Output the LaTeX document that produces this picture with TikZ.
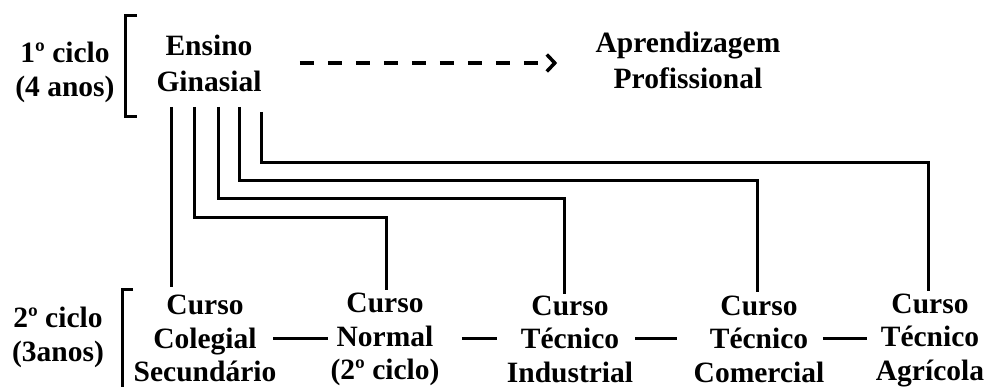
\documentclass[tikz,border=0pt]{standalone}
\usepackage{fontspec}
\setmainfont{Liberation Serif}
\usetikzlibrary{arrows.meta,calc}
\begin{document}
\begin{tikzpicture}[x=1pt,y=-1pt,
  txt/.style={align=center, inner sep=0pt, outer sep=0pt},
  toptxt/.style={txt, font=\bfseries\fontsize{29.5}{36}\selectfont},
  bottxt/.style={txt, font=\bfseries\fontsize{29.5}{33.5}\selectfont},
  labtxt/.style={txt, font=\bfseries\fontsize{29.5}{34}\selectfont},
  conn/.style={line width=3pt},
  brk/.style={line width=3pt},
  dasharrow/.style={line width=3.5pt, dash pattern=on 14pt off 14pt, -{Straight Barb[length=8pt,width=17pt]}}]
\useasboundingbox (0,0) rectangle (989,387);

% labels and brackets
\node[labtxt] (lab1) at (65,72) {1º ciclo\\(4 anos)};
\draw[brk] (137,16) -- (125,16) -- (125,117) -- (137,117);
\node[labtxt] (lab2) at (58,337) {2º ciclo\\(3anos)};
\draw[brk] (133,290) -- (122,290) -- (122,392);

% top row
\node[toptxt] (ens) at (209,63) {Ensino\\Ginasial};
\node[toptxt] (apr) at (688,60) {Aprendizagem\\Profissional};
\draw[dasharrow] ($(ens.east)+(38.5,0)$) -- ($(apr.west |- ens.east)+(-38.5,0)$);

% bottom row
\node[bottxt] (col) at (205,338.5) {Curso\\Colegial\\Secundário};
\node[bottxt] (nor) at (385,339.5) {Curso\\Normal\\(2º ciclo)};
\node[bottxt] (ind) at (570,339) {Curso\\Técnico\\Industrial};
\node[bottxt] (com) at (759,339) {Curso\\Técnico\\Comercial};
\node[bottxt] (agr) at (930,340) {Curso\\Técnico\\Agrícola};

% branch start points and bends
\coordinate (e1) at (171,107);
\coordinate (e2) at (194,107);
\coordinate (e3) at (218,107);
\coordinate (e4) at (239,107);
\coordinate (e5) at (261,112);
\coordinate (k2) at (386,218);
\coordinate (k3) at (564,199);
\coordinate (k4) at (757,181);
\coordinate (k5) at (928,163);

\draw[conn, shorten >=8pt] (e1) -- (e1 |- col.north);
\draw[conn, shorten >=3pt] (e2) |- (k2) -- (k2 |- nor.north);
\draw[conn, shorten >=2pt] (e3) |- (k3) -- (k3 |- ind.north);
\draw[conn, shorten >=4pt] (e4) |- (k4) -- (k4 |- com.north);
\draw[conn, shorten >=2pt] (e5) |- (k5) -- (k5 |- agr.north);

% horizontal links
\draw[conn] ($(col.east)+(-3,0)$) -- ($(nor.west |- col.east)+(-2.5,0)$);
\draw[conn] ($(nor.east |- col.east)+(22.5,0)$) -- ($(ind.west |- col.east)+(-10,0)$);
\draw[conn] ($(ind.east |- col.east)+(2,0)$) -- ($(com.west |- col.east)+(-16.5,0)$);
\draw[conn] ($(com.east |- col.east)+(-1.5,0)$) -- ($(agr.west |- col.east)+(-9,0)$);
\end{tikzpicture}
\end{document}
